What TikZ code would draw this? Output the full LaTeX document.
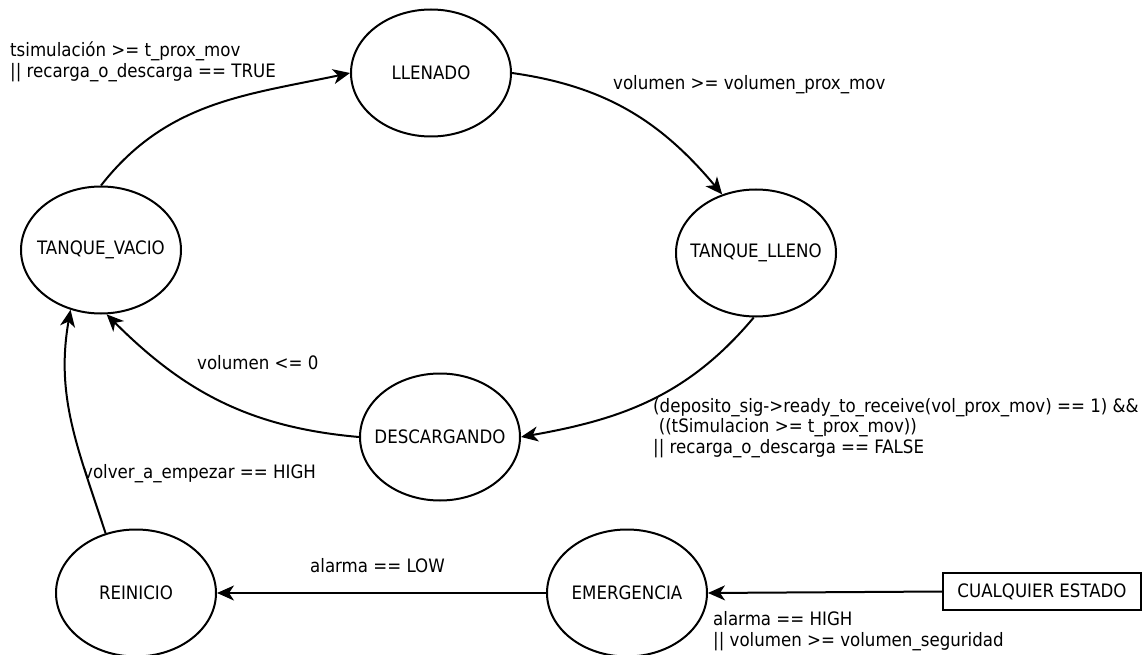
\documentclass[tikz,border=0pt]{standalone}
\usepackage{fontspec}
\setmainfont{DejaVu Sans Condensed}
\usetikzlibrary{shapes.geometric,arrows.meta}
% centre a label without letting it widen its ellipse
\newcommand\ctext[1]{\makebox[0pt][c]{#1}}
\begin{document}
\begin{tikzpicture}[x=1pt,y=1pt,
  every node/.style={font=\fontsize{18.5}{20.5}\selectfont},
  state/.style={ellipse,draw,line width=2pt,minimum width=160pt,minimum height=127pt,inner sep=0pt},
  box/.style={rectangle,draw,line width=2pt,minimum width=198pt,minimum height=37pt,inner sep=0pt},
  trans/.style={line width=2pt,-{Stealth[length=17pt,width=15pt,inset=5pt]}},
  cond/.style={inner sep=0pt,align=left,anchor=west}]
\useasboundingbox (0,0) rectangle (1146,-655);

% states
\node[state] (LL) at (431,-73)  {\ctext{LLENADO}};
\node[state] (TV) at (101,-250) {\ctext{TANQUE\_VACIO}};
\node[state] (TL) at (756,-253) {\ctext{TANQUE\_LLENO}};
\node[state] (DE) at (440,-437) {\ctext{DESCARGANDO}};
\node[state] (RE) at (136,-593) {\ctext{REINICIO}};
\node[state] (EM) at (627,-593) {\ctext{EMERGENCIA}};
\node[box]   (CE) at (1042,-591.5) {CUALQUIER ESTADO};

% transitions
\draw[trans] (TV.north) to[out=52,in=192] (LL.west);
\draw[trans] (LL.east) to[out=-8,in=130] (TL.120);
\draw[trans] (TL.268) to[out=-130,in=10] (DE.east);
\draw[trans] (DE.west) to[out=175,in=-45] (TV.-85);
\draw[trans] (RE.117) to[out=108,in=-100] (TV.-117);
\draw[trans] (EM.west) -- (RE.east);
\draw[trans] (CE.west) -- (EM.east);

% guard conditions
\node[cond] (c1) at (10,-62) {tsimulación >= t\_prox\_mov\\|| recarga\_o\_descarga == TRUE};
\node[cond] (c2) at (613,-85) {volumen >= volumen\_prox\_mov};
\node[cond] (c3) at (653,-428) {(deposito\_sig->ready\_to\_receive(vol\_prox\_mov) == 1) \&\&\\\hspace*{0.3em}((tSimulacion >= t\_prox\_mov))\\|| recarga\_o\_descarga == FALSE};
\node[cond] (c4) at (197,-363) {volumen <= 0};
\node[cond] (c5) at (83,-474) {volver\_a\_empezar == HIGH};
\node[cond] (c6) at (310,-566) {alarma == LOW};
\node[cond] (c7) at (713,-631) {alarma == HIGH\\|| volumen >= volumen\_seguridad};
\end{tikzpicture}
\end{document}
